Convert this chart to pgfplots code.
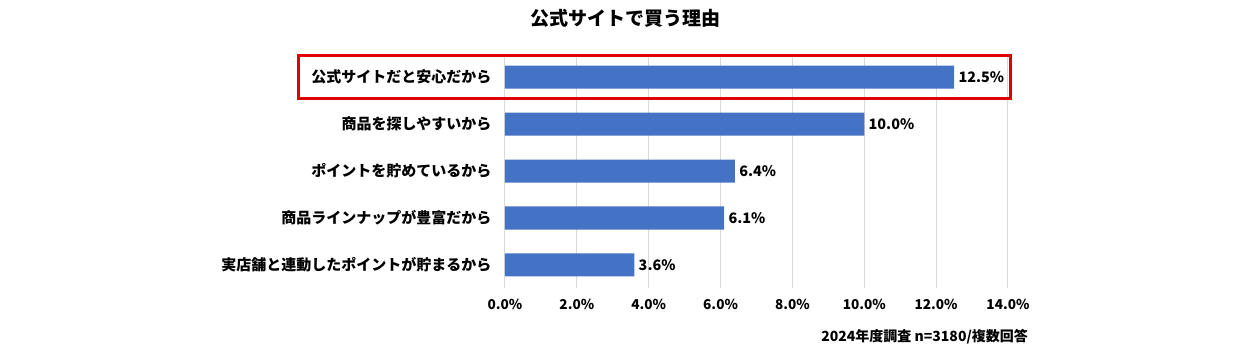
\documentclass[border=0pt]{standalone}
\usepackage{pgfplots}
\pgfplotsset{compat=1.18}
\usepackage{fontspec}
\setmainfont{Noto Sans CJK JP}
\definecolor{barblue}{HTML}{4472C4}
\definecolor{boxred}{HTML}{E00000}
\begin{document}
\begin{tikzpicture}
\useasboundingbox (0,0) rectangle (625pt,176pt);
\begin{axis}[at={(252.5pt,31.75pt)}, anchor=south west, scale only axis,
  width=251.5pt, height=117.5pt,
  xbar, xmin=0, xmax=14, ymin=-0.5, ymax=4.5, y dir=reverse,
  ytick={0,1,2,3,4},
  yticklabels={公式サイトだと安心だから,商品を探しやすいから,ポイントを貯めているから,商品ラインナップが豊富だから,実店舗と連動したポイントが貯まるから},
  xtick={0,2,4,6,8,10,12,14},
  xmajorgrids, major grid style={black!15, line width=0.5pt},
  axis line style={draw=none}, tick style={draw=none},
  bar width=11.5pt,
  /pgf/number format/assume math mode=true,
  xticklabel={\pgfmathprintnumber[fixed,fixed zerofill,precision=1]{\tick}\%},
  xticklabel style={font=\bfseries\fontsize{6.8}{8}\selectfont, yshift=-2pt},
  yticklabel style={font=\bfseries\fontsize{7.5}{9}\selectfont, xshift=1pt},
  nodes near coords={\pgfmathprintnumber[fixed,fixed zerofill,precision=1]{\pgfplotspointmeta}\%},
  nodes near coords style={font=\bfseries\fontsize{7.2}{9}\selectfont, anchor=west, inner sep=2pt},
]
\addplot[fill=barblue, draw=none] coordinates {(12.5,0) (10.0,1) (6.4,2) (6.1,3) (3.6,4)};
\end{axis}
\node[font=\bfseries\fontsize{9.5}{11}\selectfont] at (312.5pt,167pt) {公式サイトで買う理由};
\node[font=\bfseries\fontsize{7}{8}\selectfont, anchor=east] at (517.5pt,7.5pt) {2024年度調査 n=3180/複数回答};
\draw[boxred, line width=1.5pt] (149pt,126.5pt) rectangle (505pt,148pt);
\end{tikzpicture}
\end{document}
